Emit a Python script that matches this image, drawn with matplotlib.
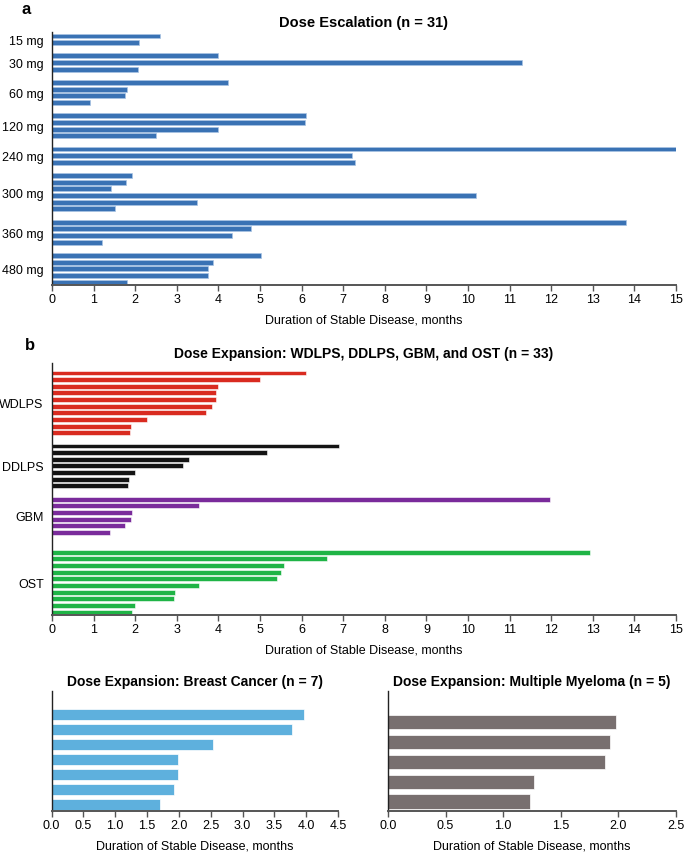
import matplotlib
matplotlib.use("Agg")
import matplotlib.pyplot as plt
import numpy as np

plt.rcParams['font.family'] = ['Liberation Sans', 'DejaVu Sans']

# ---------------- data ----------------
esc_groups = ["15 mg", "30 mg", "60 mg", "120 mg", "240 mg", "300 mg", "360 mg", "480 mg"]
esc_values = [
    [2.60, 2.09],
    [3.99, 11.31, 2.07],
    [4.23, 1.81, 1.76, 0.91],
    [6.10, 6.07, 4.00, 2.51],
    [15.0, 7.22, 7.28],
    [1.92, 1.79, 1.42, 10.19, 3.49, 1.52],
    [13.80, 4.79, 4.32, 1.19],
    [5.03, 3.86, 3.76, 3.74, 1.81],
]

exp_groups = ["WDLPS", "DDLPS", "GBM", "OST"]
exp_values = [
    [6.10, 4.99, 4.00, 3.94, 3.94, 3.84, 3.69, 2.29, 1.89, 1.87],
    [6.90, 5.18, 3.29, 3.16, 2.00, 1.86, 1.82],
    [11.96, 3.53, 1.92, 1.89, 1.76, 1.39],
    [12.94, 6.61, 5.58, 5.50, 5.40, 3.53, 2.96, 2.94, 1.99, 1.92],
]
exp_gaps = [1, 1, 2]  # empty slots after each group
exp_colors = ["#d92b20", "#141414", "#7a2b9b", "#1fb446"]

breast_values = [3.97, 3.78, 2.53, 1.98, 1.98, 1.92, 1.71]
mm_values = [1.98, 1.93, 1.88, 1.27, 1.23]

xlabel = "Duration of Stable Disease, months"

W, H = 684, 854
fig = plt.figure(figsize=(W / 100, H / 100), dpi=100)


def box(l, t, r, b):
    return [l / W, 1 - b / H, (r - l) / W, (b - t) / H]


def style(ax):
    for s in ["top", "right"]:
        ax.spines[s].set_visible(False)
    ax.spines["left"].set_color("#222222")
    ax.spines["left"].set_linewidth(1.0)
    ax.spines["bottom"].set_color("#555555")
    ax.spines["bottom"].set_linewidth(1.4)
    ax.tick_params(axis="y", length=0, labelsize=9, pad=6)
    ax.tick_params(axis="x", length=4, width=1.0, color="#555555", labelsize=9, pad=2)


def layout(groups_vals, gaps):
    pos, centers = [], []
    p = 0
    for i, vals in enumerate(groups_vals):
        start = p
        for _ in vals:
            pos.append(p)
            p += 1
        centers.append((start + p - 1) / 2)
        if i < len(gaps):
            p += gaps[i]
    return pos, centers


# ---------------- panel a ----------------
axa = fig.add_axes(box(52, 33, 676, 286))
pos, centers = layout(esc_values, [1] * (len(esc_values) - 1))
vals = [v for g in esc_values for v in g]
axa.barh(pos, vals, height=0.74, color="#3a72b4", edgecolor="#a9c4e4", linewidth=0.5)
axa.set_yticks(centers)
axa.set_yticklabels(esc_groups)
axa.set_ylim(pos[-1] + 0.45, -0.6)
axa.set_xlim(0, 15)
axa.set_xticks(np.arange(0, 16, 1))
style(axa)
axa.set_xlabel(xlabel, fontsize=9, labelpad=6)
axa.set_title("Dose Escalation (n = 31)", fontsize=10.5, fontweight="bold", pad=4)
fig.text(22 / W, 1 - 10 / H, "a", fontsize=12, fontweight="bold", va="center")

# ---------------- panel b ----------------
axb = fig.add_axes(box(52, 364, 676, 616))
pos, centers = layout(exp_values, exp_gaps)
vals = [v for g in exp_values for v in g]
cols = [c for g, c in zip(exp_values, exp_colors) for _ in g]
axb.barh(pos, vals, height=0.74, color=cols, edgecolor="white", linewidth=0.4)
axb.set_yticks(centers)
axb.set_yticklabels(exp_groups)
axb.set_ylim(pos[-1] + 0.45, -1.5)
axb.set_xlim(0, 15)
axb.set_xticks(np.arange(0, 16, 1))
style(axb)
axb.set_xlabel(xlabel, fontsize=9, labelpad=6)
axb.set_title("Dose Expansion: WDLPS, DDLPS, GBM, and OST (n = 33)", fontsize=10,
              fontweight="bold", pad=4)
fig.text(25 / W, 1 - 346 / H, "b", fontsize=12, fontweight="bold", va="center")

# ---------------- breast cancer ----------------
axc = fig.add_axes(box(51.5, 692, 338, 812))
pos = np.arange(len(breast_values))
axc.barh(pos, breast_values, height=0.71, color="#5eb0dd", edgecolor="white", linewidth=0.5)
axc.set_yticks([])
axc.set_ylim(pos[-1] + 0.45, -1.55)
axc.set_xlim(0, 4.5)
axc.set_xticks(np.arange(0, 4.51, 0.5))
axc.set_xticklabels([f"{t:.1f}" for t in np.arange(0, 4.51, 0.5)])
style(axc)
axc.set_xlabel(xlabel, fontsize=9, labelpad=6)
axc.set_title("Dose Expansion: Breast Cancer (n = 7)", fontsize=10, fontweight="bold", pad=4)

# ---------------- multiple myeloma ----------------
axd = fig.add_axes(box(388, 692, 676, 812))
pos = np.arange(len(mm_values))
axd.barh(pos, mm_values, height=0.71, color="#786f6f", edgecolor="white", linewidth=0.5)
axd.set_yticks([])
axd.set_ylim(pos[-1] + 0.48, -1.56)
axd.set_xlim(0, 2.5)
axd.set_xticks(np.arange(0, 2.51, 0.5))
axd.set_xticklabels([f"{t:.1f}" for t in np.arange(0, 2.51, 0.5)])
style(axd)
axd.set_xlabel(xlabel, fontsize=9, labelpad=6)
axd.set_title("Dose Expansion: Multiple Myeloma (n = 5)", fontsize=10, fontweight="bold", pad=4)

fig.savefig("out.png", dpi=100)
